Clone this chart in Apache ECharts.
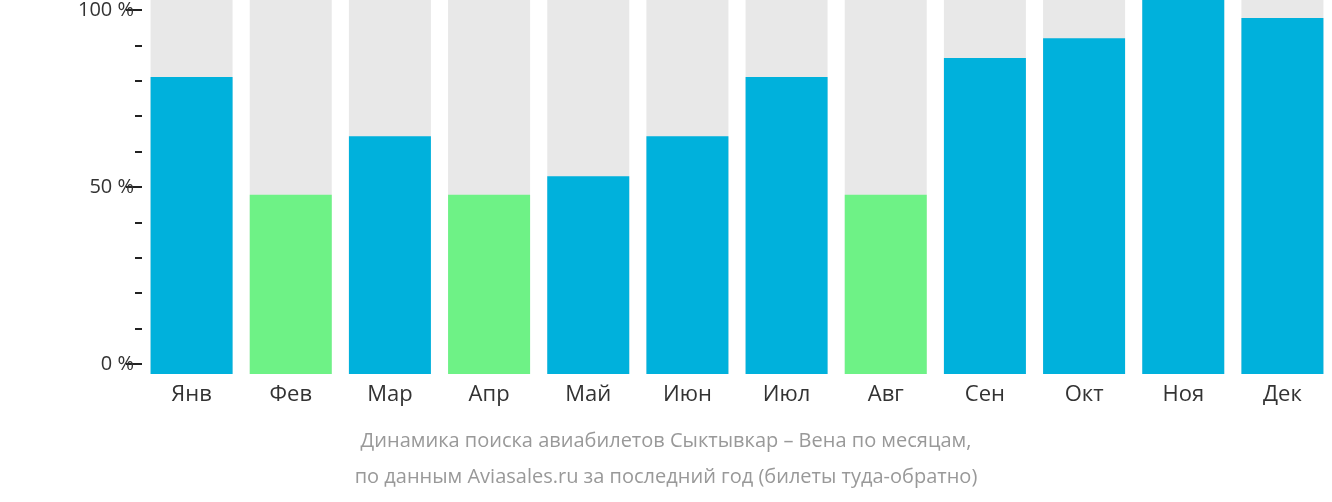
<!DOCTYPE html><html><head><meta charset="utf-8"><script src="https://cdn.jsdelivr.net/npm/echarts@6/dist/echarts.min.js"></script>
<style>html,body{margin:0;padding:0;background:#fff}#c{width:1332px;height:502px}</style></head><body><div id="c"></div><script>
const categories=['Янв','Фев','Мар','Апр','Май','Июн','Июл','Авг','Сен','Окт','Ноя','Дек'];
const values=[79.4,47.9,63.6,47.9,52.9,63.6,79.4,47.9,84.5,89.8,100,95.2];
const lowMonths=['Фев','Апр','Авг'];
const tickLabels={0:'0 %',50:'50 %',100:'100 %'};
const F='"Open Sans", sans-serif';
const chart=echarts.init(document.getElementById('c'));
chart.setOption({
 animation:false,
 grid:[{left:142,right:-10,top:0,bottom:128},{left:142,right:-10,top:9,bottom:138}],
 xAxis:[{type:'category',data:categories,gridIndex:0,axisLine:{show:false},axisTick:{show:false},
   axisLabel:{fontFamily:F,fontSize:22,color:'#333',margin:10}},
  {type:'category',data:categories,gridIndex:1,show:false}],
 yAxis:[{gridIndex:0,min:0,max:100,show:false},
  {gridIndex:1,min:0,max:100,interval:50,splitLine:{show:false},axisLine:{show:false},
   axisTick:{show:true,length:16,lineStyle:{color:'#222',width:2}},
   minorTick:{show:true,splitNumber:5,length:7,lineStyle:{color:'#222',width:2}},
   axisLabel:{fontFamily:F,fontSize:20,color:'#333',margin:8,formatter:v=>tickLabels[v]??''}}],
 series:[
  {type:'bar',xAxisIndex:0,yAxisIndex:0,data:categories.map(()=>100),barWidth:82,barGap:'-100%',itemStyle:{color:'#e8e8e8'},silent:true},
  {type:'bar',xAxisIndex:0,yAxisIndex:0,barWidth:82,
   data:values.map((v,i)=>({value:v,itemStyle:{color:lowMonths.includes(categories[i])?'#6ef286':'#00b1dc'}}))}
 ],
 graphic:[{type:'text',left:'center',top:431,style:{text:'Динамика поиска авиабилетов Сыктывкар – Вена по месяцам,',fontFamily:F,fontSize:20,fill:'#999'}},
  {type:'text',left:'center',top:467,style:{text:'по данным Aviasales.ru за последний год (билеты туда-обратно)',fontFamily:F,fontSize:20,fill:'#999'}}]
});
</script></body></html>
